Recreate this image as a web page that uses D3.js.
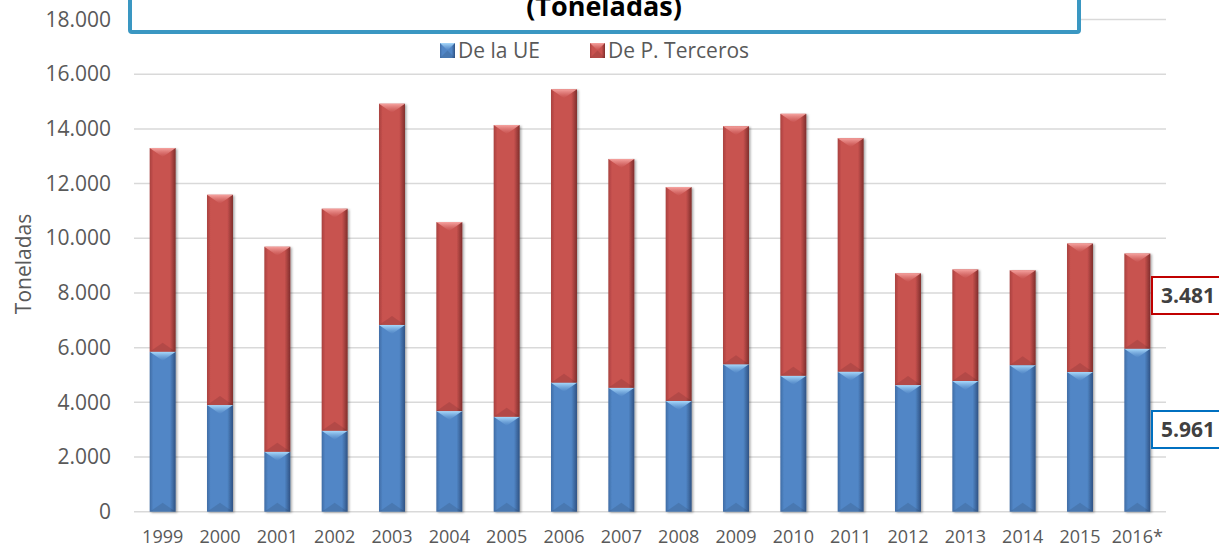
<!DOCTYPE html>
<html>
<head>
<meta charset="utf-8">
<script src="https://cdn.jsdelivr.net/npm/d3@7"></script>
<style>
    body { margin: 0; background: #fff; }
    svg { display: block; font-family: "Open Sans", "Noto Sans", sans-serif; }
</style>
</head>
<body>
<svg id="chart" width="1219" height="547"></svg>
<script>
const years = ["1999", "2000", "2001", "2002", "2003", "2004", "2005", "2006", "2007", "2008",
    "2009", "2010", "2011", "2012", "2013", "2014", "2015", "2016*"];
const deLaUE = [5850, 3900, 2190, 2960, 6830, 3680, 3470, 4720, 4530, 4050,
    5390, 4970, 5120, 4630, 4780, 5360, 5110, 5961];
const deTerceros = [7450, 7690, 7500, 8120, 8090, 6910, 10670, 10730, 8370, 7820,
    8710, 9580, 8540, 4090, 4080, 3470, 4700, 3481];
const yTicks = [0, 2000, 4000, 6000, 8000, 10000, 12000, 14000, 16000, 18000];
const seriesNames = ["De la UE", "De P. Terceros"];

const svg = d3.select("#chart");
const esLocale = d3.formatLocale({ decimal: ",", thousands: ".", grouping: [3], currency: ["", " €"] });
const fmt = esLocale.format(",d");

const plot = { left: 134, right: 1166, top: 19.5, bottom: 511.7 };

const x = d3.scaleBand()
    .domain(years)
    .range([plot.left, plot.right])
    .paddingInner(0.547)
    .paddingOuter(0.2735);

const y = d3.scaleLinear()
    .domain([0, 18000])
    .range([plot.bottom, plot.top]);

//colours: body, edge, dark edge, highlight
const palette = {
    blue: { body: "#5186c6", edge: "#3f6ca5", dark: "#2f5283", light: "#a9dafc" },
    red: { body: "#c8524f", edge: "#a8403e", dark: "#7f2e2c", light: "#f6a3a0" }
};

const defs = svg.append("defs");
Object.keys(palette).forEach(k => {
    const c = palette[k];
    const g = defs.append("linearGradient").attr("id", "body-" + k)
        .attr("x1", "0%").attr("x2", "100%").attr("y1", "0%").attr("y2", "0%");
    g.append("stop").attr("offset", "0%").attr("stop-color", c.edge);
    g.append("stop").attr("offset", "14%").attr("stop-color", c.body);
    g.append("stop").attr("offset", "78%").attr("stop-color", c.body);
    g.append("stop").attr("offset", "100%").attr("stop-color", c.dark);
    const t = defs.append("linearGradient").attr("id", "top-" + k)
        .attr("x1", "0%").attr("x2", "0%").attr("y1", "0%").attr("y2", "100%");
    t.append("stop").attr("offset", "0%").attr("stop-color", c.light);
    t.append("stop").attr("offset", "100%").attr("stop-color", c.body).attr("stop-opacity", 0.6);
});
const shadow = defs.append("filter").attr("id", "shadow")
    .attr("x", "-30%").attr("y", "-10%").attr("width", "160%").attr("height", "120%");
shadow.append("feDropShadow").attr("dx", 1.5).attr("dy", 1).attr("stdDeviation", 1.3)
    .attr("flood-color", "#000").attr("flood-opacity", 0.35);

//gridlines
svg.append("g")
    .selectAll("line")
    .data(yTicks)
    .enter()
    .append("line")
    .attr("x1", plot.left)
    .attr("x2", plot.right)
    .attr("y1", d => y(d))
    .attr("y2", d => y(d))
    .attr("stroke", "#d9d9d9")
    .attr("stroke-width", 1.5);

//y axis labels
const yAxis = d3.axisLeft(y)
    .tickValues(yTicks)
    .tickFormat(fmt)
    .tickSize(0)
    .tickPadding(0);
const gy = svg.append("g")
    .attr("transform", `translate(${111},0)`)
    .call(yAxis);
gy.select(".domain").remove();
gy.selectAll("text")
    .attr("fill", "#595959")
    .style("font-size", "21px")
    .style("font-family", "'Open Sans', sans-serif");

//x axis labels
const xAxis = d3.axisBottom(x).tickSize(0).tickPadding(0);
const gx = svg.append("g")
    .attr("transform", `translate(0,${524})`)
    .call(xAxis);
gx.select(".domain").remove();
gx.selectAll("text")
    .attr("fill", "#595959")
    .attr("dy", 0)
    .attr("y", 18.5)
    .style("font-size", "18px")
    .style("font-family", "'Open Sans', sans-serif");

svg.append("text")
    .attr("transform", `translate(${31},${264}) rotate(-90)`)
    .attr("text-anchor", "middle")
    .attr("fill", "#595959")
    .style("font-size", "21px")
    .text("Toneladas");

//stacked bars
const table = years.map((yr, i) => ({ year: yr, ue: deLaUE[i], terceros: deTerceros[i] }));
const stacked = d3.stack().keys(["ue", "terceros"])(table);
const colorKey = { ue: "blue", terceros: "red" };

const drawSegment = (g, x0, w, yTop, yBot, k) => {
    const h = yBot - yTop;
    const bev = Math.min(9, h / 2);
    g.append("rect")
        .attr("x", x0).attr("y", yTop).attr("width", w).attr("height", h)
        .attr("fill", `url(#body-${k})`);
    g.append("polygon")
        .attr("points", [[x0, yTop], [x0 + w, yTop], [x0 + w / 2, yTop + bev]].join(" "))
        .attr("fill", `url(#top-${k})`);
    g.append("polygon")
        .attr("points", [[x0, yBot], [x0 + w, yBot], [x0 + w / 2, yBot - bev]].join(" "))
        .attr("fill", "#000").attr("opacity", 0.1);
};

const bars = svg.append("g");
years.forEach((yr, i) => {
    const bg = bars.append("g").attr("filter", "url(#shadow)");
    stacked.forEach(s => {
        const d = s[i];
        drawSegment(bg, x(yr), x.bandwidth(), y(d[1]), y(d[0]), colorKey[s.key]);
    });
});

//title box (top is cut off by the picture)
svg.append("rect")
    .attr("x", 130).attr("y", -40)
    .attr("width", 949).attr("height", 72)
    .attr("fill", "#fff")
    .attr("stroke", "#3a97c2")
    .attr("stroke-width", 4)
    .attr("rx", 2);
svg.append("text")
    .attr("x", 604).attr("y", 16)
    .attr("text-anchor", "middle")
    .attr("fill", "#000")
    .style("font-size", "27px")
    .style("font-weight", "bold")
    .text("(Toneladas)");

//legend
const legendPos = [440, 590];
const legend = svg.append("g");
["blue", "red"].forEach((k, i) => {
    const lg = legend.append("g");
    drawSegment(lg, legendPos[i], 15, 43, 58, k);
    lg.append("text")
        .attr("x", legendPos[i] + 18)
        .attr("y", 58)
        .attr("fill", "#595959")
        .style("font-size", "21px")
        .text(seriesNames[i]);
});

//value boxes for the last year
const last = years.length - 1;
const labels = [
    { v: deTerceros[last], top: 277, stroke: "#c00000" },
    { v: deLaUE[last], top: 411, stroke: "#0070c0" }
];
labels.forEach(l => {
    svg.append("rect")
        .attr("x", 1152).attr("y", l.top)
        .attr("width", 80).attr("height", 37)
        .attr("fill", "#fff")
        .attr("stroke", l.stroke)
        .attr("stroke-width", 2);
    svg.append("text")
        .attr("x", 1161).attr("y", l.top + 26)
        .attr("fill", "#404040")
        .style("font-size", "21px")
        .style("font-weight", "bold")
        .text(fmt(l.v));
});
</script>
</body>
</html>
